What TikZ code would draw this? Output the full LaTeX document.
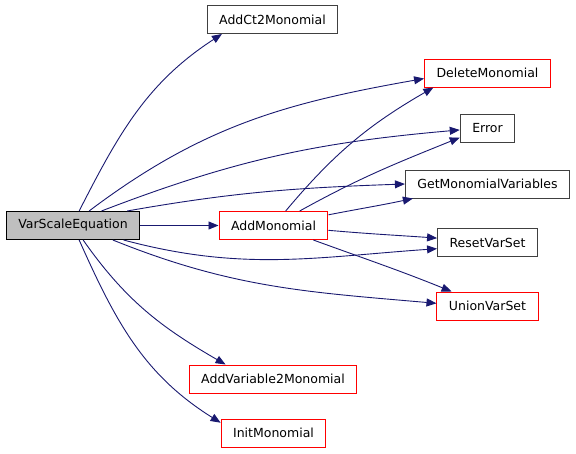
\documentclass[tikz,border=0pt]{standalone}
\usepackage{fontspec}
\setmainfont{DejaVu Sans}
\usetikzlibrary{arrows.meta}
\definecolor{edgeblue}{HTML}{191970}
\definecolor{rootgrey}{HTML}{BFBFBF}
\definecolor{linkred}{HTML}{FF0000}
\definecolor{darkline}{HTML}{404040}
\tikzset{
  funcbox/.style={rectangle,draw=darkline,line width=1pt,fill=white,inner xsep=12pt,minimum height=28pt,font=\fontsize{12.5}{15}\selectfont},
  rootbox/.style={funcbox,draw=black,fill=rootgrey},
  redbox/.style={funcbox,draw=linkred},
  call/.style={-{Triangle[length=10pt,width=8pt]},line width=0.9pt,draw=edgeblue}
}
\begin{document}
\begin{tikzpicture}[x=1pt,y=1pt]
  \useasboundingbox (0,0) rectangle (576,-453);
  \node[rootbox] (vse) at (73,-225.5) {VarScaleEquation};
  \node[funcbox] (addct) at (272.5,-19.5) {AddCt2Monomial};
  \node[redbox] (delm) at (487.5,-73) {DeleteMonomial};
  \node[funcbox] (err) at (487.5,-128) {Error};
  \node[funcbox] (getmv) at (487.5,-184) {GetMonomialVariables};
  \node[redbox] (addm) at (273.5,-225.5) {AddMonomial};
  \node[funcbox] (reset) at (487.5,-242.5) {ResetVarSet};
  \node[redbox] (union) at (487.5,-306) {UnionVarSet};
  \node[redbox] (addvar) at (273,-379) {AddVariable2Monomial};
  \node[redbox] (initm) at (273.5,-433) {InitMonomial};

  \draw[call] (vse.67) to[out=63,in=213] (addct.196);
  \draw[call] (vse.42) to[out=37,in=190] (delm.185);
  \draw[call] (vse.27) to[out=21,in=185] (err.184);
  \draw[call] (vse.15) to[out=10,in=182] (getmv.180);
  \draw[call] (vse) -- (addm);
  \draw[call] (vse.-16) to[out=-15,in=184] (reset.187);
  \draw[call] (vse.-20) to[out=-22,in=175] (union.177);
  \draw[call] (vse.-55) to[out=-55,in=150] (addvar.163);
  \draw[call] (vse.-67) to[out=-66,in=148] (initm.169);
  \draw[call] (addm.50) to[out=50,in=210] (delm.195);
  \draw[call] (addm.29) to[out=29,in=202] (err.199);
  \draw[call] (addm.11) to[out=11,in=192] (getmv.191);
  \draw[call] (addm.-5) to[out=-5,in=176] (reset.175);
  \draw[call] (addm.-20) to[out=-20,in=158] (union.158);
\end{tikzpicture}
\end{document}
